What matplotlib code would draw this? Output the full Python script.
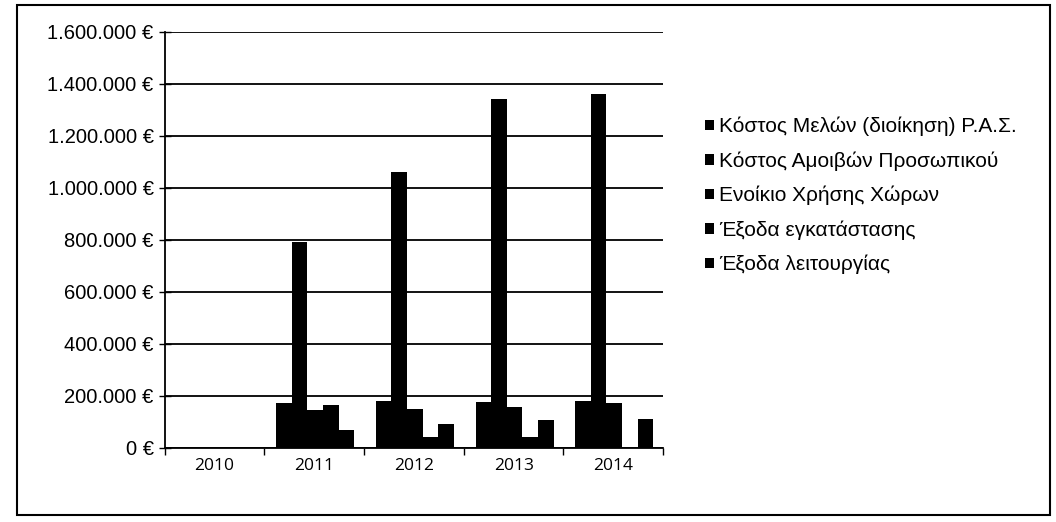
import matplotlib.pyplot as plt
import numpy as np
from matplotlib.patches import Rectangle
from matplotlib.ticker import FuncFormatter

plt.rcParams["font.family"] = ["Liberation Sans", "DejaVu Sans"]

years = ["2010", "2011", "2012", "2013", "2014"]
series_names = [
    "Κόστος Μελών (διοίκηση) Ρ.Α.Σ.",
    "Κόστος Αμοιβών Προσωπικού",
    "Ενοίκιο Χρήσης Χώρων",
    "Έξοδα εγκατάστασης",
    "Έξοδα λειτουργίας",
]
kostos_melon = [0, 173000, 180000, 178000, 180000]
kostos_amoivon = [0, 790000, 1060000, 1340000, 1360000]
enoikio = [0, 145000, 150000, 157000, 172000]
exoda_egkat = [0, 165000, 40000, 40000, 0]
exoda_leit = [0, 68000, 90000, 106000, 112000]
series = [kostos_melon, kostos_amoivon, enoikio, exoda_egkat, exoda_leit]

fig = plt.figure(figsize=(10.56, 5.22), dpi=100)
ax = fig.add_axes([0.156, 0.142, 0.472, 0.797])

x = np.arange(len(years))
w = 0.157
for i, vals in enumerate(series):
    ax.bar(x + (i - 2) * w + 0.01, vals, width=w, color="black",
           label=series_names[i], zorder=3)

ax.set_xlim(-0.5, len(years) - 0.5)
ax.set_ylim(0, 1600000)
ax.set_yticks(np.arange(0, 1600001, 200000))
ax.yaxis.set_major_formatter(
    FuncFormatter(lambda v, p: f"{int(v):,}".replace(",", ".") + " €"))
ax.grid(axis="y", color="black", linewidth=1.3, zorder=0)

ax.set_xticks(x)
ax.set_xticklabels(years, family=["Open Sans", "DejaVu Sans"], fontsize=12.5)
ax.set_xticks(np.arange(-0.5, len(years)), minor=True)
ax.tick_params(axis="x", which="major", length=0, pad=7)
ax.tick_params(axis="x", which="minor", length=5, width=1, direction="out")
ax.tick_params(axis="y", length=8, width=1, direction="inout", labelsize=14.5, pad=4)

for s in ["top", "right"]:
    ax.spines[s].set_visible(False)
ax.spines["left"].set_linewidth(1.3)
ax.spines["bottom"].set_linewidth(1.3)

leg = fig.legend(loc="upper left", bbox_to_anchor=(0.65, 0.812), frameon=False,
                 fontsize=15, handlelength=0.42, handleheight=0.42,
                 handletextpad=0.25, labelspacing=0.72)

fig.patches.append(Rectangle((0.016, 0.013), 0.978, 0.977, transform=fig.transFigure,
                             fill=False, edgecolor="black", linewidth=1.5))

fig.savefig("out.png", dpi=100)
